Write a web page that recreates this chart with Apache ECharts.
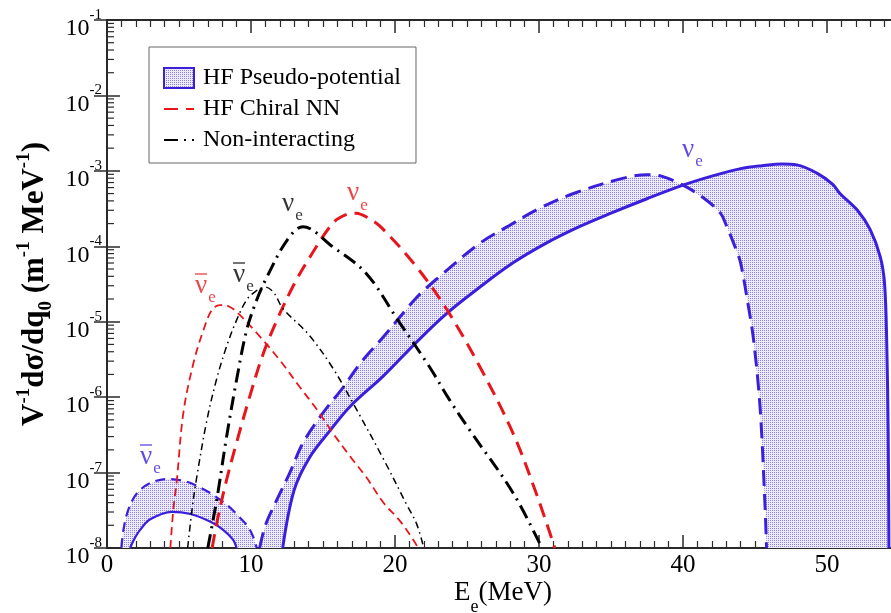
<!DOCTYPE html>
<html>
<head>
<meta charset="utf-8">
<title>HF neutrino response</title>
<script src="https://cdn.jsdelivr.net/npm/echarts@6/dist/echarts.min.js"></script>
<style>
    html, body { margin: 0; padding: 0; background: #fff; }
    #chart { width: 891px; height: 613px; }
</style>
</head>
<body>
<div id="chart"></div>
<script>
// [E_e (MeV), V^-1 dsigma/dq0]
const pseudoNuUpper = [[10.6,1e-8],[11.0,2.0e-8],[11.7,3.98e-8],[12.7,1.0e-7],[13.6,2.45e-7],[15.0,6.17e-7],[16.4,1.35e-6],[17.6,2.82e-6],[19.2,6.31e-6],[21.5,2.09e-5],[23.1,3.98e-5],[25.9,1.10e-4],[27.8,1.82e-4],[30.0,3.16e-4],[32.4,5.01e-4],[35.8,7.94e-4],[37.5,8.91e-4],[38.5,8.51e-4],[40.0,6.46e-4],[41.5,4.27e-4],[42.6,2.75e-4],[43.0,1.91e-4],[43.7,8.91e-5],[44.0,6.03e-5],[44.5,1.78e-5],[44.9,5.75e-6],[45.35,7.41e-7],[45.7,3.47e-8],[45.8,1e-8]];
const pseudoNuLower = [[12.2,1e-8],[13.0,5.89e-8],[14.1,1.62e-7],[15.5,3.63e-7],[16.9,7.59e-7],[19.2,1.91e-6],[21.5,5.37e-6],[23.6,1.29e-5],[25.9,2.88e-5],[28.2,6.03e-5],[30.5,1.10e-4],[32.8,1.82e-4],[35.0,2.75e-4],[37.5,4.27e-4],[40.0,6.46e-4],[42.0,8.51e-4],[44.0,1.07e-3],[45.5,1.17e-3],[46.9,1.23e-3],[47.9,1.20e-3],[49.3,9.33e-4],[50.4,6.61e-4],[50.9,5.01e-4],[52.1,3.02e-4],[53.0,1.66e-4],[53.7,7.24e-5],[54.0,3.16e-5],[54.15,5.01e-6],[54.25,3.16e-7],[54.3,1e-8]];
const pseudoAntiUpper = [[1.0,1e-8],[1.15,1.78e-8],[1.5,3.31e-8],[2.1,5.37e-8],[3.0,7.24e-8],[4.2,8.22e-8],[5.5,7.59e-8],[6.5,6.31e-8],[7.4,5.01e-8],[8.4,3.63e-8],[9.2,2.57e-8],[9.8,1.91e-8],[10.15,1.41e-8],[10.4,1e-8]];
const pseudoAntiLower = [[1.6,1e-8],[1.9,1.32e-8],[2.3,1.74e-8],[3.0,2.40e-8],[4.5,3.02e-8],[5.8,2.82e-8],[7.15,2.24e-8],[8.0,1.78e-8],[8.75,1.29e-8],[9.0,1e-8]];
const chiralNu = [[7.3,1e-8],[7.7,2.51e-8],[8.3,7.94e-8],[9.0,2.51e-7],[9.9,1.0e-6],[10.8,3.55e-6],[11.8,1.05e-5],[13.0,3.16e-5],[14.1,7.24e-5],[15.7,2.04e-4],[16.6,2.63e-4],[17.3,2.75e-4],[18.2,2.34e-4],[19.1,1.74e-4],[21.4,5.62e-5],[23.6,1.45e-5],[25.9,2.51e-6],[28.2,3.31e-7],[29.8,5.37e-8],[31.1,1e-8]];
const chiralAnti = [[4.4,1e-8],[4.6,3.16e-8],[4.85,7.94e-8],[5.3,6.17e-7],[6.0,2.82e-6],[6.7,7.76e-6],[7.3,1.45e-5],[7.85,1.66e-5],[8.5,1.58e-5],[9.0,1.35e-5],[10.4,7.08e-6],[12.0,3.09e-6],[13.4,1.35e-6],[14.6,6.76e-7],[15.7,3.31e-7],[16.9,1.62e-7],[18.0,8.71e-8],[19.2,3.98e-8],[20.3,2.34e-8],[21.3,1.26e-8],[21.6,1e-8]];
const freeNu = [[7.0,1e-8],[7.3,2.0e-8],[7.7,5.37e-8],[8.3,2.95e-7],[9.0,1.70e-6],[9.7,7.76e-6],[10.4,1.95e-5],[11.1,3.89e-5],[12.5,1.20e-4],[13.6,1.82e-4],[15.7,9.77e-5],[18.0,4.37e-5],[20.2,1.05e-5],[22.4,2.51e-6],[23.8,9.12e-7],[25.2,3.63e-7],[28.2,5.37e-8],[30.2,1e-8]];
const freeAnti = [[5.6,1e-8],[5.9,3.16e-8],[6.2,7.94e-8],[6.9,4.57e-7],[7.6,1.70e-6],[8.3,4.68e-6],[9.0,1.05e-5],[9.7,1.95e-5],[10.3,2.51e-5],[11.0,2.88e-5],[11.6,2.40e-5],[12.2,1.51e-5],[14.0,6.76e-6],[15.7,2.40e-6],[17.2,7.59e-7],[19.2,1.51e-7],[20.8,3.80e-8],[21.5,2.09e-8],[22.0,1e-8]];

const xTicks = [0, 10, 20, 30, 40, 50];
const legendNames = ['HF Pseudo-potential', 'HF Chiral NN', 'Non-interacting'];

const FONT = 'Liberation Serif';
const BLUE = '#3a20da';
const RED = '#e8161c';
const AXIS = '#2a2a2a';

// curve labels (anchor = left edge of the nu glyph)
const nuLabels = [
    {pos: [2.29, 1.66e-7], bar: true, color: BLUE},
    {pos: [6.11, 3.07e-5], bar: true, color: RED},
    {pos: [8.75, 4.29e-5], bar: true, color: '#000'},
    {pos: [12.15, 3.64e-4], bar: false, color: '#000'},
    {pos: [16.67, 5.08e-4], bar: false, color: RED},
    {pos: [39.93, 1.89e-3], bar: false, color: BLUE}
];

// stipple fill of the pseudo-potential band
let dots = document.createElement('canvas');
dots.width = 2; dots.height = 2;
let dctx = dots.getContext('2d');
dctx.fillStyle = '#eeecfc';
dctx.fillRect(0, 0, 2, 2);
dctx.fillStyle = '#8a80e6';
dctx.fillRect(0, 0, 1, 1);
const stipple = {image: dots, repeat: 'repeat'};

// log minor ticks 2..9 per decade
let minorVals = [];
for (let n = -8; n < -1; n++) {
    for (let k = 2; k < 10; k++) minorVals.push(k * Math.pow(10, n));
}

function lineSeries(name, data, color, width, dash) {
    return {
        name: name,
        type: 'line',
        data: data,
        symbol: 'none',
        smooth: 0.35,
        z: 3,
        lineStyle: {color: color, width: width, type: dash || 'solid'},
        itemStyle: {color: color}
    }
}

function bandItem(upper, lower) {
    return function (params, api) {
        let pts = upper.map(p => api.coord(p));
        lower.slice().reverse().forEach(p => pts.push(api.coord(p)));
        return {type: 'polygon', shape: {points: pts}, style: {fill: stipple, stroke: null}};
    }
}

let chart = echarts.init(document.getElementById('chart'));
let option = {
    animation: false,
    backgroundColor: '#fff',
    grid: {left: 107, right: -8, top: 20, bottom: 65, outerBoundsMode: 'none', containLabel: false},
    legend: {
        data: [
            {name: legendNames[0], icon: 'rect'},
            {name: legendNames[1], itemStyle: {opacity: 0}},
            {name: legendNames[2], itemStyle: {opacity: 0}}
        ],
        left: 149, top: 47,
        orient: 'vertical',
        itemWidth: 30, itemHeight: 20, itemGap: 7,
        padding: [19, 15, 11, 14],
        borderColor: '#666', borderWidth: 1,
        textStyle: {fontFamily: FONT, fontSize: 24, color: '#000', padding: [0, 0, 0, 4]}
    },
    xAxis: [{
        type: 'value', min: 0, max: 55, interval: 10,
        name: '{b|E}{sub|e}{b|(MeV)}',
        nameLocation: 'middle', nameGap: 31, nameMoveOverlap: false,
        nameTextStyle: {
            fontFamily: FONT, color: '#000',
            rich: {
                b: {fontFamily: FONT, fontSize: 27, lineHeight: 27, color: '#000'},
                sub: {fontFamily: FONT, fontSize: 18, lineHeight: 18, padding: [30, 0, 0, 0], color: '#000'}
            }
        },
        axisLine: {lineStyle: {color: AXIS, width: 2}},
        axisTick: {inside: true, length: 13, lineStyle: {color: AXIS, width: 1.5}},
        minorTick: {show: true, splitNumber: 10, length: 7, lineStyle: {color: AXIS, width: 1.2}},
        splitLine: {show: false},
        axisLabel: {
            fontFamily: FONT, fontSize: 25, color: '#000', margin: 5,
            formatter: v => xTicks.indexOf(v) >= 0 ? String(v) : ''
        }
    }, {
        type: 'value', min: 0, max: 55, interval: 10, position: 'top',
        axisLine: {lineStyle: {color: AXIS, width: 2}},
        axisTick: {inside: true, length: 13, lineStyle: {color: AXIS, width: 1.5}},
        minorTick: {show: true, splitNumber: 10, length: 7, lineStyle: {color: AXIS, width: 1.2}},
        splitLine: {show: false},
        axisLabel: {show: false}
    }],
    yAxis: [{
        type: 'log', logBase: 10, min: 1e-8, max: 1e-1, splitNumber: 7,
        name: '{b|V}{sup|-1}{b|dσ/dq}{sub|0}{b| (m}{sup|-1}{b| MeV}{sup|-1}{b|)}',
        nameLocation: 'middle', nameRotate: 90, nameGap: 57, nameMoveOverlap: false,
        nameTextStyle: {
            fontFamily: FONT, color: '#000',
            rich: {
                b: {fontFamily: FONT, fontSize: 31, fontWeight: 'bold', lineHeight: 30, color: '#000'},
                sup: {fontFamily: FONT, fontSize: 19, fontWeight: 'bold', lineHeight: 18, padding: [0, 0, 22, 0], color: '#000'},
                sub: {fontFamily: FONT, fontSize: 19, fontWeight: 'bold', lineHeight: 18, padding: [22, 0, 0, 0], color: '#000'}
            }
        },
        axisLine: {lineStyle: {color: AXIS, width: 2}},
        axisTick: {inside: true, length: 13, lineStyle: {color: AXIS, width: 1.5}},
        splitLine: {show: false},
        axisLabel: {
            margin: 5,
            padding: [18, 0, 0, 0],
            formatter: v => '{b|10}{s|' + Math.round(Math.log10(v)) + '}',
            rich: {
                b: {fontFamily: FONT, fontSize: 24, lineHeight: 22, color: '#000'},
                s: {fontFamily: FONT, fontSize: 15, lineHeight: 15, padding: [0, 0, 28, 0], color: '#000'}
            }
        }
    }, {
        type: 'log', logBase: 10, min: 1e-8, max: 1e-1, splitNumber: 7, position: 'right',
        axisLine: {lineStyle: {color: AXIS, width: 2}},
        axisTick: {inside: true, length: 13, lineStyle: {color: AXIS, width: 1.5}},
        splitLine: {show: false},
        axisLabel: {show: false}
    }],
    series: [
        {
            name: 'HF Pseudo-potential', type: 'custom', z: 1, silent: true,
            itemStyle: {color: stipple, borderColor: BLUE, borderWidth: 2},
            data: [[30, 1e-4]],
            renderItem: bandItem(pseudoNuUpper, pseudoNuLower)
        },
        {
            name: 'pseudo anti band', type: 'custom', z: 1, silent: true,
            data: [[5, 3e-8]],
            renderItem: bandItem(pseudoAntiUpper, pseudoAntiLower)
        },
        lineSeries('pseudo nu dashed', pseudoNuUpper, BLUE, 3, [16, 8]),
        lineSeries('pseudo nu solid', pseudoNuLower, BLUE, 3),
        lineSeries('pseudo anti dashed', pseudoAntiUpper, BLUE, 2.2, [10, 6]),
        lineSeries('pseudo anti solid', pseudoAntiLower, BLUE, 2.2),
        lineSeries('HF Chiral NN', chiralNu, RED, 3, [14, 8]),
        lineSeries('HF Chiral NN', chiralAnti, RED, 1.8, [8, 5]),
        lineSeries('Non-interacting', freeNu, '#000', 3, [14, 6, 2, 6]),
        lineSeries('Non-interacting', freeAnti, '#000', 1.5, [7, 4, 1.5, 4]),
        {
            name: 'minor ticks', type: 'custom', silent: true, z: 4,
            data: minorVals.map(v => [0, v]),
            renderItem: function (params, api) {
                let v = api.value(1);
                let a = api.coord([0, v]);
                let b = api.coord([55, v]);
                let st = {stroke: AXIS, lineWidth: 1.2};
                return {type: 'group', children: [
                    {type: 'line', shape: {x1: a[0], y1: a[1], x2: a[0] + 7, y2: a[1]}, style: st},
                    {type: 'line', shape: {x1: b[0], y1: b[1], x2: b[0] - 7, y2: b[1]}, style: st}
                ]};
            }
        },
        {
            name: 'labels', type: 'scatter', symbolSize: 0, silent: true, z: 5,
            data: nuLabels.map(d => ({
                value: d.pos,
                label: {
                    show: true, position: [0, 0], align: 'left', verticalAlign: 'middle',
                    formatter: (d.bar ? '{bar| }\n' : '') + '{nu|ν}{sub|e}',
                    rich: {
                        bar: {width: 12, height: 2, lineHeight: 2, fontSize: 2, backgroundColor: d.color, opacity: 0.55},
                        nu: {fontFamily: FONT, fontSize: 27, lineHeight: 22, color: d.color},
                        sub: {fontFamily: FONT, fontSize: 17, lineHeight: 17, padding: [24, 0, 0, 1], color: d.color}
                    }
                }
            }))
        }
    ]
};
chart.setOption(option);
</script>
</body>
</html>
